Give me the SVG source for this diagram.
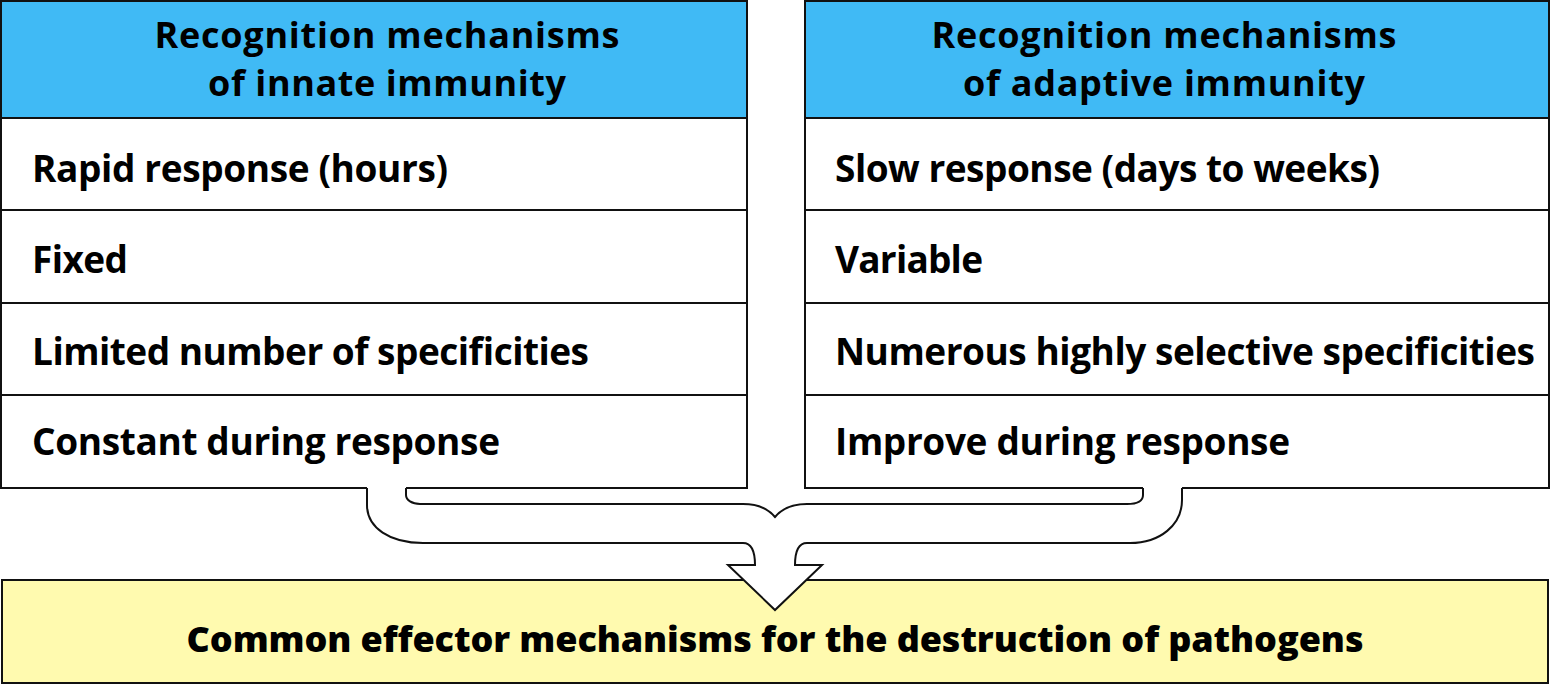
<svg xmlns="http://www.w3.org/2000/svg" width="1550" height="688" viewBox="0 0 1550 688">
  <style>
    .cell { fill: #ffffff; stroke: #111111; stroke-width: 2; }
    .head { fill: #40baf5; stroke: #111111; stroke-width: 2; }
    .base { fill: #fffaaf; stroke: #111111; stroke-width: 2; }
    text { font-family: "Open Sans", "Noto Sans", "Liberation Sans", sans-serif; font-weight: 700; fill: #000000; }
    .h { font-size: 36px; text-anchor: middle; }
    .r { font-size: 37px; }
    .b { font-size: 36px; font-weight: 800; text-anchor: middle; }
    .flow-fill { fill: #ffffff; stroke: none; }
    .flow-line { fill: none; stroke: #111111; stroke-width: 2; stroke-linejoin: miter; }
  </style>

  <!-- innate immunity column -->
  <g id="innate">
    <rect class="head" x="1" y="1" width="746" height="117"/>
    <rect class="cell" x="1" y="118" width="746" height="92"/>
    <rect class="cell" x="1" y="210" width="746" height="93"/>
    <rect class="cell" x="1" y="303" width="746" height="92"/>
    <rect class="cell" x="1" y="395" width="746" height="93"/>
    <text class="h" x="387" y="48" textLength="465">Recognition mechanisms</text>
    <text class="h" x="387" y="96" textLength="358">of innate immunity</text>
    <text class="r" x="32" y="182" textLength="416">Rapid response (hours)</text>
    <text class="r" x="32" y="273" textLength="96">Fixed</text>
    <text class="r" x="32" y="365" textLength="557">Limited number of specificities</text>
    <text class="r" x="32" y="455" textLength="468">Constant during response</text>
  </g>

  <!-- adaptive immunity column -->
  <g id="adaptive">
    <rect class="head" x="805" y="1" width="744" height="117"/>
    <rect class="cell" x="805" y="118" width="744" height="92"/>
    <rect class="cell" x="805" y="210" width="744" height="93"/>
    <rect class="cell" x="805" y="303" width="744" height="92"/>
    <rect class="cell" x="805" y="395" width="744" height="93"/>
    <text class="h" x="1164" y="48" textLength="465">Recognition mechanisms</text>
    <text class="h" x="1164" y="96" textLength="402">of adaptive immunity</text>
    <text class="r" x="835" y="182" textLength="545">Slow response (days to weeks)</text>
    <text class="r" x="835" y="273" textLength="148">Variable</text>
    <text class="r" x="835" y="365" textLength="700">Numerous highly selective specificities</text>
    <text class="r" x="835" y="455" textLength="455">Improve during response</text>
  </g>

  <!-- shared effector box -->
  <g id="effector">
    <rect class="base" x="2" y="580" width="1546" height="103"/>
    <text class="b" x="775" y="652" textLength="1177">Common effector mechanisms for the destruction of pathogens</text>
  </g>

  <!-- merging arrow from both columns into the effector box -->
  <g id="connectors">
    <path class="flow-fill" d="M367,486 L367,505 C367,528 390,543 423,543 L743,543 C751,543 755,550 755,565 L728,565 L775,610 L822,565 L795,565 C795,550 799,543 807,543 L1130,543 C1160,543 1182,525 1182,500 L1182,486 L1143,486 L1143,495 C1143,501 1137,504 1127,504 L807,504 C790,504 780,511 775,517 C770,511 760,504 743,504 L420,504 C412,504 406,500 406,495 L406,486 Z"/>
    <path class="flow-line" d="M367,488 L367,505 C367,528 390,543 423,543 L743,543 C751,543 755,550 755,565 L728,565 L775,610 L822,565 L795,565 C795,550 799,543 807,543 L1130,543 C1160,543 1182,525 1182,500 L1182,488 M1143,488 L1143,495 C1143,501 1137,504 1127,504 L807,504 C790,504 780,511 775,517 C770,511 760,504 743,504 L420,504 C412,504 406,500 406,495 L406,488"/>
  </g>
</svg>
